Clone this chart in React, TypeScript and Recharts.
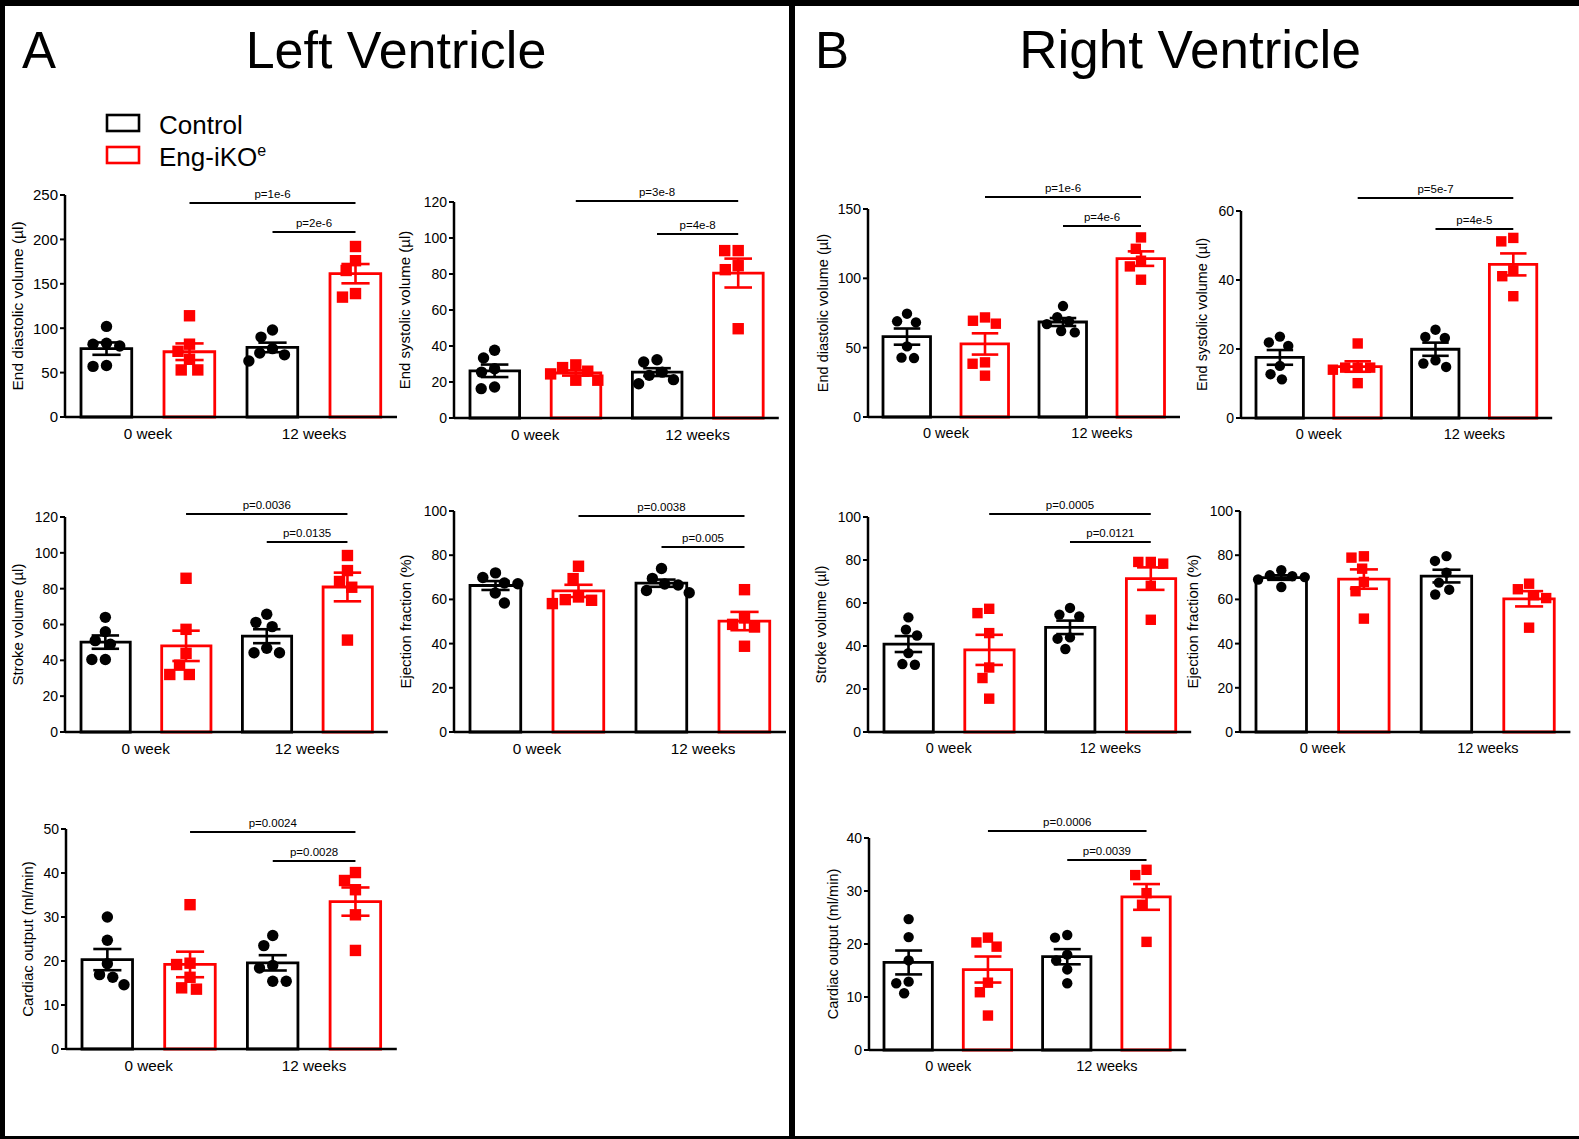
import React from 'react';
import { ComposedChart, Bar, Cell, Scatter, ErrorBar, XAxis, YAxis, ReferenceLine } from 'recharts';

const timepoints = ['0 week', '12 weeks'];
const groupNames = ['Control', 'Eng-iKO'];
const groupColors = ['#000000', '#ff0000'];
const barNames = ['Control 0 week', 'Eng-iKO 0 week', 'Control 12 weeks', 'Eng-iKO 12 weeks'];

// each animal, in bar order: control 0 wk, KO 0 wk, control 12 wk, KO 12 wk
const lvEdv = [
  [102, 83, 80, 82, 58, 57],
  [114, 82, 74, 65, 53, 53],
  [98, 90, 77, 72, 70, 63],
  [192, 176, 165, 139, 135],
];
const lvEsv = [
  [37.6, 33.3, 27.4, 25.5, 17.2, 16.3],
  [29.5, 28, 26, 24.5, 21, 21],
  [32.4, 31.1, 25.5, 23.7, 21.3, 19],
  [93, 93, 84.6, 82.4, 49.6],
];
const lvSv = [
  [64, 56, 51, 49, 40.5, 40.5],
  [85.8, 57.3, 43.9, 37.3, 32.1, 32.1],
  [65.7, 61.2, 58.8, 46.7, 44.2, 44.2],
  [98.5, 90.1, 84, 80.8, 51.3],
];
const lvEf = [
  [72, 69.9, 67.4, 67.1, 62.9, 58.4],
  [75, 69.4, 61.1, 59.9, 59.6, 58.1],
  [74, 69.5, 67, 66.5, 64, 63],
  [64.4, 51.6, 48.7, 47.5, 38.8],
];
const lvCo = [
  [30, 24.7, 19.4, 16.9, 16.3, 14.6],
  [32.8, 19.5, 19.2, 16.3, 13.9, 13.6],
  [25.8, 23.5, 19, 18.4, 15.4, 15.4],
  [40.1, 38.3, 36.2, 30.5, 22.4],
];
const rvEdv = [
  [74.5, 69, 68.2, 50.9, 42.8, 42.5],
  [71.8, 69.4, 67.3, 39.4, 38.4, 29.8],
  [80, 72, 69, 67, 62, 61],
  [129.5, 121.3, 112.7, 108.6, 99],
];
const rvEsv = [
  [23.6, 21.9, 20.9, 15.1, 12.7, 11.2],
  [21.6, 14.6, 14.6, 14.6, 14, 10.1],
  [25.6, 23.5, 23.2, 16.7, 15.8, 14.8],
  [52.2, 51.2, 42.8, 41.1, 35.3],
];
const rvSv = [
  [53.3, 47.6, 44.9, 36.7, 31.6, 31.3],
  [57.3, 55.3, 46, 30, 25.1, 15.5],
  [57.7, 54.6, 53.8, 44, 43.4, 38.6],
  [79.1, 79.1, 78.3, 68, 52.2],
];
const rvEf = [
  [73.2, 70.9, 70.5, 70.1, 69, 65.6],
  [79.5, 78.9, 73.9, 67.9, 63.7, 51.3],
  [79.6, 77.4, 72.1, 67.6, 64.4, 62.2],
  [67.1, 64.6, 61.9, 60.6, 47.2],
];
const rvCo = [
  [24.7, 21.3, 16.9, 12.9, 12.6, 10.7],
  [21.2, 20.3, 19.5, 12.7, 10.9, 6.5],
  [21.7, 21.2, 18, 16.9, 15.2, 12.6],
  [34, 33, 29.6, 27.4, 20.4],
];

// p values: KO 0 wk vs KO 12 wk, then control 12 wk vs KO 12 wk
const lvEdvP = ['p=1e-6', 'p=2e-6'];
const lvEsvP = ['p=3e-8', 'p=4e-8'];
const lvSvP = ['p=0.0036', 'p=0.0135'];
const lvEfP = ['p=0.0038', 'p=0.005'];
const lvCoP = ['p=0.0024', 'p=0.0028'];
const rvEdvP = ['p=1e-6', 'p=4e-6'];
const rvEsvP = ['p=5e-7', 'p=4e-5'];
const rvSvP = ['p=0.0005', 'p=0.0121'];
const rvCoP = ['p=0.0006', 'p=0.0039'];

const FONT = '"Liberation Sans", Arial, Helvetica, sans-serif';
const AXW = 62;
const MT = 45;
const XH = 40;
const MR = 4;

const specs = [
  { values: lvEdv, p: lvEdvP, label: 'End diastolic volume (\u00b5l)', max: 250, step: 50, left: 65, top: 195, bottom: 417, spacing: 83, gap: 48, fs: 15.5, tfs: 15, xfs: 15.3, br: [8, 37], d: 13.5, r: 5.7 },
  { values: lvEsv, p: lvEsvP, label: 'End systolic volume (\u00b5l)', max: 120, step: 20, left: 454, top: 202, bottom: 418, spacing: 81.2, gap: 49, fs: 15, tfs: 14, xfs: 15.3, br: [-1, 32], d: 13.5, r: 5.7 },
  { values: lvSv, p: lvSvP, label: 'Stroke volume (\u00b5l)', max: 120, step: 20, left: 65, top: 517, bottom: 732, spacing: 80.7, gap: 47, fs: 15, tfs: 14, xfs: 15.3, br: [-3, 25], d: 13.5, r: 5.7 },
  { values: lvEf, p: lvEfP, label: 'Ejection fraction (%)', max: 100, step: 20, left: 454, top: 511, bottom: 732, spacing: 83, gap: 48, fs: 15, tfs: 14, xfs: 15.3, br: [5, 36], d: 13.5, r: 5.7 },
  { values: lvCo, p: lvCoP, label: 'Cardiac output (ml/min)', max: 50, step: 10, left: 66, top: 829, bottom: 1049, spacing: 82.7, gap: 38.5, fs: 15, tfs: 14, xfs: 15.3, br: [3, 32], d: 13.5, r: 5.7 },
  { values: rvEdv, p: rvEdvP, label: 'End diastolic volume (\u00b5l)', max: 150, step: 50, left: 868, top: 209, bottom: 417, spacing: 78, gap: 45, fs: 14.5, tfs: 14, xfs: 14.5, br: [-12, 17], d: 12.5, r: 5.2 },
  { values: rvEsv, p: rvEsvP, label: 'End systolic volume (\u00b5l)', max: 60, step: 20, left: 1241, top: 211, bottom: 418, spacing: 77.8, gap: 39, fs: 14.5, tfs: 14, xfs: 14.5, br: [-13, 18], d: 12.5, r: 5.2 },
  { values: rvSv, p: rvSvP, label: 'Stroke volume (\u00b5l)', max: 100, step: 20, left: 868, top: 517, bottom: 732, spacing: 80.8, gap: 47, fs: 14.5, tfs: 14, xfs: 14.5, br: [-3, 25], d: 12.5, r: 5.2 },
  { values: rvEf, p: [] as string[], label: 'Ejection fraction (%)', max: 100, step: 20, left: 1240, top: 511, bottom: 732, spacing: 82.6, gap: 47.5, fs: 15, tfs: 14, xfs: 14.5, br: [] as number[], d: 12.5, r: 5.2 },
  { values: rvCo, p: rvCoP, label: 'Cardiac output (ml/min)', max: 40, step: 10, left: 869, top: 838, bottom: 1050, spacing: 79.3, gap: 36.5, fs: 14.5, tfs: 14, xfs: 14.5, br: [-7, 22], d: 12.5, r: 5.2 },
];

const mean = (v: number[]) => v.reduce((a, b) => a + b, 0) / v.length;
const sem = (v: number[]) => {
  const m = mean(v);
  const sd = Math.sqrt(v.reduce((a, b) => a + (b - m) * (b - m), 0) / (v.length - 1));
  return sd / Math.sqrt(v.length);
};

// simple beeswarm: returns horizontal pixel offsets so dots of diameter d don't overlap
function swarm(vals: number[], pxPerY: number, d: number) {
  const order = vals.map((_, i) => i).sort((a, b) => vals[b] - vals[a]);
  const placed: { x: number; y: number }[] = [];
  const out = vals.map(() => 0);
  for (const i of order) {
    const y = vals[i] * pxPerY;
    const near = placed.filter((p) => Math.abs(p.y - y) < d);
    const cands = [0];
    near.forEach((p) => {
      const dx = Math.sqrt(d * d - (p.y - y) * (p.y - y));
      cands.push(p.x - dx, p.x + dx);
    });
    cands.sort((a, b) => Math.abs(a) - Math.abs(b) || a - b);
    const x = cands.find((c) => near.every((p) => Math.hypot(c - p.x, p.y - y) >= d - 0.01)) ?? 0;
    placed.push({ x, y });
    out[i] = x;
  }
  return out;
}

const Blank = () => <g />;

function Panel({ spec }: { spec: (typeof specs)[number] }) {
  const plotH = spec.bottom - spec.top;
  const plotW = spec.spacing * 4;
  const width = AXW + plotW + MR;
  const height = MT + plotH + XH;
  const pxPerY = plotH / spec.max;

  const rows = spec.values.map((vals, i) => ({ name: barNames[i], x: i + 0.5, mean: mean(vals), sem: sem(vals) }));
  const pts = [0, 1].map((g) =>
    spec.values.flatMap((vals, i) => {
      if (i % 2 !== g) return [];
      const off = swarm(vals, pxPerY, spec.d);
      return vals.map((v, k) => ({ x: i + 0.5 + off[k] / spec.spacing, y: v }));
    })
  );
  const yTicks: number[] = [];
  for (let t = 0; t <= spec.max + 1e-9; t += spec.step) yTicks.push(t);

  const r = spec.r;
  const circle = (props: any) => <circle cx={props.cx} cy={props.cy} r={r} fill={groupColors[0]} />;
  const square = (props: any) => (
    <rect x={props.cx - r} y={props.cy - r} width={2 * r} height={2 * r} fill={groupColors[1]} />
  );

  const bracketPairs = [
    [1.5, 3.5],
    [2.5, 3.5],
  ];

  return (
    <div style={{ position: 'absolute', left: Math.round(spec.left - AXW), top: Math.round(spec.top - MT) }}>
      <ComposedChart width={width} height={height} data={rows} margin={{ top: MT, right: MR, bottom: 0, left: 0 }}>
        <XAxis xAxisId="cat" type="category" dataKey="name" hide height={0} />
        <XAxis
          xAxisId="num"
          type="number"
          dataKey="x"
          domain={[0, 4]}
          ticks={[1, 3]}
          interval={0}
          tickFormatter={(v: number) => timepoints[Math.round((v - 1) / 2)]}
          tickLine={false}
          tickSize={0}
          tickMargin={11}
          height={XH}
          axisLine={{ stroke: '#000', strokeWidth: 2.5 }}
          tick={{ fontSize: spec.xfs, fill: '#000' }}
        />
        <YAxis
          type="number"
          domain={[0, spec.max]}
          ticks={yTicks}
          interval={0}
          width={AXW}
          tickSize={5}
          tickMargin={2}
          axisLine={{ stroke: '#000', strokeWidth: 2.5 }}
          tickLine={{ stroke: '#000', strokeWidth: 2 }}
          tick={{ fontSize: spec.tfs, fill: '#000' }}
          label={{
            value: spec.label,
            angle: -90,
            position: 'insideLeft',
            offset: AXW - spec.gap,
            style: { textAnchor: 'middle', fontSize: spec.fs, fill: '#000' },
          }}
        />
        <Bar
          xAxisId="cat"
          dataKey="mean"
          barSize={spec.spacing * 0.645 - 2.8}
          fill="#ffffff"
          strokeWidth={2.8}
          isAnimationActive={false}
        >
          {rows.map((_, i) => (
            <Cell key={i} stroke={groupColors[i % 2]} />
          ))}
        </Bar>
        <Scatter xAxisId="num" name={groupNames[0]} data={pts[0]} dataKey="y" shape={circle} isAnimationActive={false} />
        <Scatter xAxisId="num" name={groupNames[1]} data={pts[1]} dataKey="y" shape={square} isAnimationActive={false} />
        {[0, 1].map((g) => (
          <Scatter
            key={'err' + g}
            xAxisId="num"
            data={rows.filter((_, i) => i % 2 === g)}
            dataKey="mean"
            shape={Blank}
            isAnimationActive={false}
          >
            <ErrorBar
              dataKey="sem"
              direction="y"
              width={spec.spacing * 0.17}
              stroke={groupColors[g]}
              strokeWidth={2.6}
              isAnimationActive={false}
            />
          </Scatter>
        ))}
        {spec.p.map((txt, k) => {
          const yb = spec.max * (1 - spec.br[k] / plotH);
          return (
            <ReferenceLine
              key={txt + k}
              xAxisId="num"
              segment={[
                { x: bracketPairs[k][0], y: yb },
                { x: bracketPairs[k][1], y: yb },
              ]}
              ifOverflow="visible"
              stroke="#000"
              strokeWidth={2}
              label={{ value: txt, position: 'top', offset: 5, fontSize: 11.5, fill: '#000' }}
            />
          );
        })}
      </ComposedChart>
    </div>
  );
}

function Frame() {
  return (
    <svg width={1579} height={1139} style={{ position: 'absolute', left: 0, top: 0 }} fontFamily={FONT}>
      <rect x={0} y={0} width={1579} height={6} fill="#000" />
      <rect x={0} y={0} width={5} height={1139} fill="#000" />
      <rect x={789} y={0} width={6} height={1139} fill="#000" />
      <rect x={0} y={1136} width={1579} height={3} fill="#000" />
      <text x={22} y={68} fontSize={51} fill="#000">A</text>
      <text x={396} y={68} fontSize={52} fill="#000" textAnchor="middle">Left Ventricle</text>
      <text x={815} y={68} fontSize={51} fill="#000">B</text>
      <text x={1190} y={68} fontSize={53} fill="#000" textAnchor="middle">Right Ventricle</text>
      <rect x={107} y={115} width={32} height={16} fill="none" stroke={groupColors[0]} strokeWidth={2.6} />
      <text x={159} y={134} fontSize={26} fill="#000">{groupNames[0]}</text>
      <rect x={107} y={147} width={32} height={16} fill="none" stroke={groupColors[1]} strokeWidth={2.6} />
      <text x={159} y={166} fontSize={26} fill="#000">
        {groupNames[1]}
        <tspan fontSize={16} dy={-10}>e</tspan>
      </text>
    </svg>
  );
}

export default function App() {
  return (
    <div style={{ position: 'relative', width: 1579, height: 1139, background: '#fff', fontFamily: FONT, overflow: 'hidden' }}>
      <style>{'body{margin:0;}'}</style>
      <Frame />
      {specs.map((s, i) => (
        <Panel key={i} spec={s} />
      ))}
    </div>
  );
}
